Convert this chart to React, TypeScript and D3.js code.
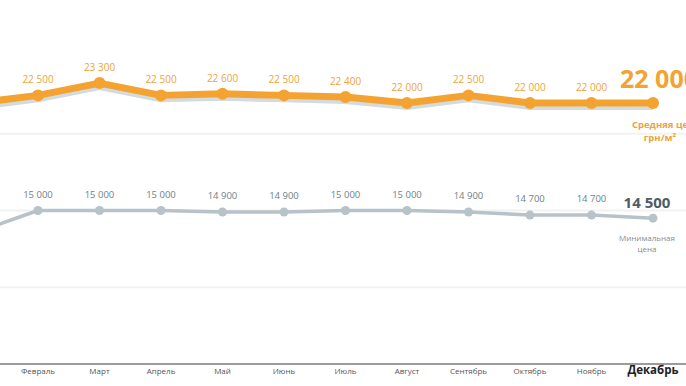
import React from 'react';
import * as d3 from 'd3';

// месяцы (январь уходит за левый край кадра)
const months = ['Январь', 'Февраль', 'Март', 'Апрель', 'Май', 'Июнь', 'Июль', 'Август', 'Сентябрь', 'Октябрь', 'Ноябрь', 'Декабрь'];
const avgPrice = [22000, 22500, 23300, 22500, 22600, 22500, 22400, 22000, 22500, 22000, 22000, 22000];
const minPrice = [13600, 15000, 15000, 15000, 14900, 14900, 15000, 15000, 14900, 14700, 14700, 14500];
const gridValues = [10000, 15000, 20000];

const W = 686;
const H = 386;
const ORANGE = '#f5a330';
const GREY = '#b7c2c9';

const fmt = (v: number) => d3.format(',')(v).replace(/,/g, ' ');

export default function App() {
  const x = d3.scalePoint<string>().domain(months).range([-23.5, 653]);
  const y = d3.scaleLinear().domain([5000, 25000]).range([364, 57]);

  const line = d3.line<number>()
    .x((_, i) => x(months[i]) as number)
    .y(d => y(d));

  const last = months.length - 1;
  const font = '"Open Sans", "DejaVu Sans", sans-serif';

  return (
    <svg width={W} height={H} style={{ position: 'absolute', left: 0, top: 0, fontFamily: font }}>
      <rect width={W} height={H} fill="#fff" />

      {gridValues.map(v => (
        <line key={v} x1={0} x2={W} y1={y(v)} y2={y(v)} stroke="#f2f2f2" strokeWidth={2} />
      ))}

      {/* ось X; подпись января за кадром не видна */}
      <line x1={0} x2={W} y1={y(5000)} y2={y(5000)} stroke="#7a7a7a" strokeWidth={1.5} />
      {months.map((m, i) => (
        i === 0 ? null : i === last ? (
          <text key={m} x={x(m)} y={374} textAnchor="middle" fontSize={11.5} fontWeight="bold" fill="#222">{m}</text>
        ) : (
          <text key={m} x={x(m)} y={374} textAnchor="middle" fontSize={8} fill="#555">{m}</text>
        )
      ))}

      {/* минимальная цена */}
      <path d={line(minPrice) || ''} fill="none" stroke={GREY} strokeWidth={3.5} strokeLinejoin="round" />
      {minPrice.map((v, i) => (
        <circle key={i} cx={x(months[i])} cy={y(v)} r={4.5} fill={GREY} />
      ))}
      {minPrice.map((v, i) => i > 0 && i < last && (
        <text key={i} x={x(months[i])} y={y(v) - 13} textAnchor="middle" fontSize={9.5} fill="#6e7f8a">{fmt(v)}</text>
      ))}
      <text x={647} y={y(minPrice[last]) - 10} textAnchor="middle" fontSize={15} fontWeight="bold" fill="#4d5c66">{fmt(minPrice[last])}</text>
      <text x={647} y={241} textAnchor="middle" fontSize={8} fill="#7f8d96">Минимальная</text>
      <text x={647} y={252} textAnchor="middle" fontSize={8} fill="#7f8d96">цена</text>

      {/* средняя цена: тень и линия */}
      <path d={line(avgPrice) || ''} fill="none" stroke="#d3dae0" strokeWidth={6} strokeLinejoin="round" transform="translate(0,4)" />
      <path d={line(avgPrice) || ''} fill="none" stroke={ORANGE} strokeWidth={7} strokeLinejoin="round" />
      {avgPrice.map((v, i) => (
        <circle key={i} cx={x(months[i])} cy={y(v)} r={6} fill={ORANGE} />
      ))}
      {avgPrice.map((v, i) => i > 0 && i < last && (
        <text key={i} x={x(months[i])} y={y(v) - 12} textAnchor="middle" fontSize={10} fill="#eda43a">{fmt(v)}</text>
      ))}
      <text x={620} y={y(avgPrice[last]) - 15} textAnchor="start" fontSize={25} fontWeight="bold" fill={ORANGE}>{fmt(avgPrice[last])}</text>
      <text x={666} y={128} textAnchor="middle" fontSize={9.5} fontWeight="bold" fill="#eda43a">Средняя цена</text>
      <text x={660} y={141} textAnchor="middle" fontSize={9.5} fontWeight="bold" fill="#eda43a">грн/м²</text>
    </svg>
  );
}
